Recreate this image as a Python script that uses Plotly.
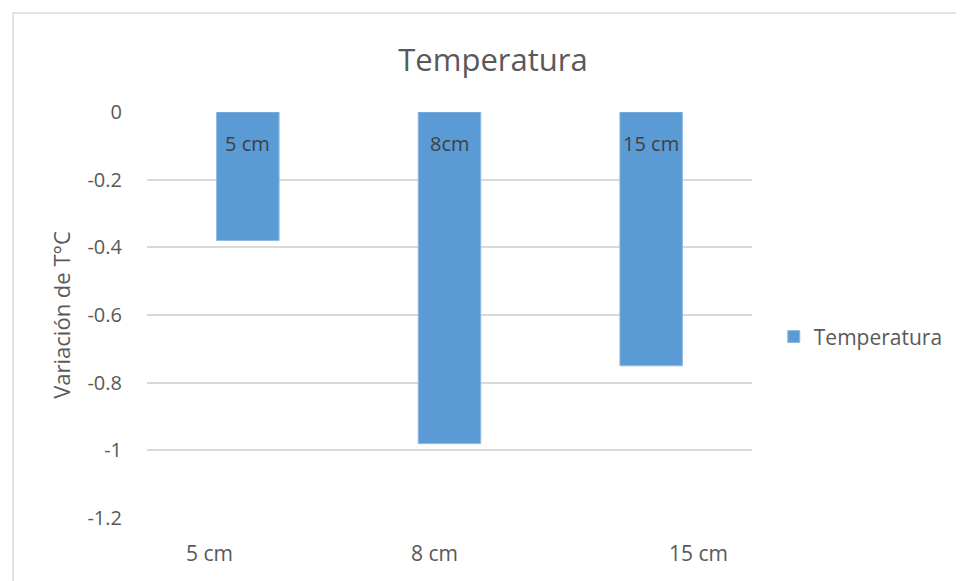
import plotly.graph_objects as go

categories = ["5 cm", "8 cm", "15 cm"]
values = [-0.38, -0.98, -0.75]
bar_labels = ["5 cm", "8cm", "15 cm"]
tick_values = [0, -0.2, -0.4, -0.6, -0.8, -1, -1.2]
tick_text = ["0", "-0.2", "-0.4", "-0.6", "-0.8", "-1", "-1.2"]
series_name = "Temperatura"

# label offsets (pixels) as drawn in reference
label_xshift = [-38, -15, 47]

FONT = "Open Sans"
TXT = "#595959"

L, R, T, B = 139, 744, 104, 510
PW, PH = R - L, B - T

fig = go.Figure()
fig.add_trace(go.Bar(
    x=categories, y=values, name=series_name,
    marker=dict(color="#5b9bd5", line=dict(color="#8fb8e3", width=1)),
    width=0.31,
))

annotations = []
for c, t in zip(categories, bar_labels):
    annotations.append(dict(x=c, y=0, xref="x", yref="y", text=t, showarrow=False,
                            yshift=-31, yanchor="middle",
                            font=dict(family=FONT, size=20, color="#404040")))
for c, t, dx in zip(categories, categories, label_xshift):
    annotations.append(dict(x=c, y=0, xref="x", yref="paper", text=t, showarrow=False,
                            yshift=-35, xshift=dx, yanchor="middle",
                            font=dict(family=FONT, size=21, color=TXT)))

fig.update_layout(
    width=964, height=581,
    margin=dict(l=L, r=964 - R, t=T, b=581 - B),
    paper_bgcolor="white", plot_bgcolor="white",
    title=dict(text="Temperatura", x=485 / 964, xanchor="center", y=1 - 52 / 581, yanchor="middle",
               font=dict(family=FONT, size=31, color=TXT)),
    xaxis=dict(showticklabels=False, showgrid=False, zeroline=False, showline=False, ticks=""),
    yaxis=dict(range=[-1.2, 0], tickvals=tick_values, ticktext=tick_text,
               showgrid=True, gridcolor="#d9d9d9", gridwidth=1.5, zeroline=False,
               ticks="outside", ticklen=20, tickcolor="rgba(0,0,0,0)",
               tickfont=dict(family=FONT, size=20, color=TXT),
               title=dict(text="Variación de T°C", font=dict(family=FONT, size=22, color=TXT), standoff=10)),
    showlegend=True,
    legend=dict(x=1.036, y=0.446, xanchor="left", yanchor="middle",
                font=dict(family=FONT, size=21, color=TXT), bgcolor="rgba(0,0,0,0)"),
    annotations=annotations,
    shapes=[dict(type="rect", xref="paper", yref="paper",
                 x0=(5 - L) / PW, x1=(990 - L) / PW,
                 y0=(B - 600) / PH, y1=(B - 5) / PH,
                 line=dict(color="#d9d9d9", width=1.5), fillcolor="rgba(0,0,0,0)", layer="below")],
)

fig.write_html("out.html")
